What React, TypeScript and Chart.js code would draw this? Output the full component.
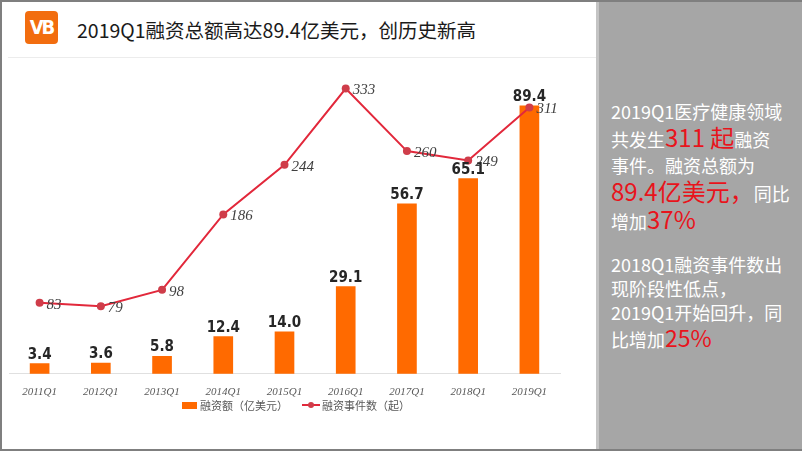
import React, { useEffect, useRef } from "react";
import { Chart, registerables } from "chart.js";

Chart.register(...registerables);

const categories = ["2011Q1", "2012Q1", "2013Q1", "2014Q1", "2015Q1", "2016Q1", "2017Q1", "2018Q1", "2019Q1"];
const amounts = [3.4, 3.6, 5.8, 12.4, 14.0, 29.1, 56.7, 65.1, 89.4];
const events = [83, 79, 98, 186, 244, 333, 260, 249, 311];
const amountLabel = "融资额（亿美元）";
const eventLabel = "融资事件数（起）";

const CJK = '"Noto Sans CJK SC", "Noto Sans", sans-serif';

const labelPlugin = {
  id: "valueLabels",
  afterDatasetsDraw(chart: any) {
    const ctx = chart.ctx;
    ctx.save();
    const barMeta = chart.getDatasetMeta(0);
    ctx.font = 'bold 15px "Liberation Sans Narrow", "DejaVu Sans Condensed", sans-serif';
    ctx.fillStyle = "#262626";
    ctx.textAlign = "center";
    ctx.textBaseline = "alphabetic";
    barMeta.data.forEach((el: any, i: number) => {
      ctx.fillText(amounts[i].toFixed(1), el.x, el.y - 5);
    });
    const lineMeta = chart.getDatasetMeta(1);
    ctx.font = 'italic 15px "Liberation Serif", "DejaVu Serif", serif';
    ctx.fillStyle = "#404040";
    ctx.textAlign = "left";
    ctx.textBaseline = "middle";
    lineMeta.data.forEach((el: any, i: number) => {
      ctx.fillText(String(events[i]), el.x + 7, el.y + 2);
    });
    ctx.restore();
  },
};

export default function App() {
  const ref = useRef<HTMLCanvasElement | null>(null);
  useEffect(() => {
    document.body.style.margin = "0";
    if (!ref.current) return;
    const chart = new Chart(ref.current, {
      type: "bar",
      data: {
        labels: categories,
        datasets: [
          {
            type: "bar",
            label: amountLabel,
            data: amounts,
            backgroundColor: "#ff6a00",
            barThickness: 19,
            yAxisID: "y",
            order: 2,
          },
          {
            type: "line",
            label: eventLabel,
            data: events,
            borderColor: "#e2283b",
            borderWidth: 2,
            pointRadius: 4,
            pointBackgroundColor: "#cf3d4a",
            pointBorderColor: "#cf3d4a",
            pointBorderWidth: 0,
            tension: 0,
            yAxisID: "y1",
            order: 1,
          },
        ],
      },
      options: {
        animation: false,
        responsive: false,
        maintainAspectRatio: false,
        layout: { padding: { left: 9, right: 36, top: 14, bottom: 0 } },
        plugins: { legend: { display: false }, tooltip: { enabled: false } },
        scales: {
          x: {
            grid: { display: false },
            border: { display: true, color: "#e0e0e0", width: 1 },
            ticks: {
              color: "#595959",
              font: { family: '"Liberation Serif", serif', style: "italic", size: 11 },
              padding: 4,
              maxRotation: 0,
            },
          },
          y: { display: false, min: 0, max: 100 },
          y1: { display: false, min: 0, max: 350 },
        },
      },
      plugins: [labelPlugin],
    });
    return () => chart.destroy();
  }, []);

  const red = "#e8141c";
  return (
    <div style={{ position: "fixed", left: 0, top: 0, width: 802, height: 451, background: "#fff", overflow: "hidden", fontFamily: CJK }}>
      {/* borders */}
      <div style={{ position: "absolute", left: 0, top: 0, width: 2, height: 451, background: "#7f7f7f" }} />
      <div style={{ position: "absolute", left: 0, top: 0, width: 802, height: 2, background: "#7f7f7f" }} />
      <div style={{ position: "absolute", left: 0, top: 449, width: 802, height: 2, background: "#7f7f7f" }} />
      {/* logo */}
      <div style={{ position: "absolute", left: 25, top: 11, width: 33, height: 33, background: "#f26d0f", borderRadius: 4, color: "#fff", fontWeight: 900, fontSize: 20, lineHeight: "33px", textAlign: "center", fontFamily: '"Liberation Sans Narrow", "DejaVu Sans Condensed", sans-serif', letterSpacing: -2 }}>VB</div>
      {/* title */}
      <div style={{ position: "absolute", left: 77, top: 16, fontSize: 19.5, lineHeight: "28px", color: "#1a1a1a", whiteSpace: "nowrap" }}>2019Q1融资总额高达89.4亿美元，创历史新高</div>
      <div style={{ position: "absolute", left: 8, top: 57, width: 588, height: 1, background: "#ececec" }} />
      {/* chart */}
      <canvas ref={ref} width={596} height={343} style={{ position: "absolute", left: 0, top: 60, width: 596, height: 343 }} />
      {/* legend */}
      <div style={{ position: "absolute", left: 182, top: 397, height: 16, display: "flex", alignItems: "center", fontSize: 11, color: "#595959", whiteSpace: "nowrap" }}>
        <span style={{ display: "inline-block", width: 15, height: 7, background: "#ff6a00", marginRight: 3 }} />
        <span>{amountLabel}</span>
        <span style={{ display: "inline-block", position: "relative", width: 18, height: 8, marginLeft: 14, marginRight: 2 }}>
          <span style={{ position: "absolute", left: 0, top: 3, width: 18, height: 2, background: "#e2283b" }} />
          <span style={{ position: "absolute", left: 6, top: 1, width: 6, height: 6, borderRadius: 3, background: "#cf3d4a" }} />
        </span>
        <span>{eventLabel}</span>
      </div>
      {/* right panel */}
      <div style={{ position: "absolute", left: 596, top: 2, width: 3, height: 447, background: "#c4c4c4" }} />
      <div style={{ position: "absolute", left: 599, top: 2, width: 203, height: 447, background: "#a6a6a6" }} />
      <div style={{ position: "absolute", left: 611, top: 98, width: 190, color: "#fff", fontSize: 18, lineHeight: "26px", whiteSpace: "nowrap" }}>
        <div>2019Q1医疗健康领域</div>
        <div>共发生<span style={{ color: red, fontSize: 24 }}>311 起</span>融资</div>
        <div>事件。融资总额为</div>
        <div><span style={{ color: red, fontSize: 24 }}>89.4亿美元，</span>同比</div>
        <div>增加<span style={{ color: red, fontSize: 24 }}>37%</span></div>
        <div style={{ height: 18 }} />
        <div style={{ lineHeight: "24px" }}>2018Q1融资事件数出</div>
        <div style={{ lineHeight: "24px" }}>现阶段性低点，</div>
        <div style={{ lineHeight: "24px" }}>2019Q1开始回升，同</div>
        <div style={{ lineHeight: "26px" }}>比增加<span style={{ color: red, fontSize: 23 }}>25%</span></div>
      </div>
    </div>
  );
}
